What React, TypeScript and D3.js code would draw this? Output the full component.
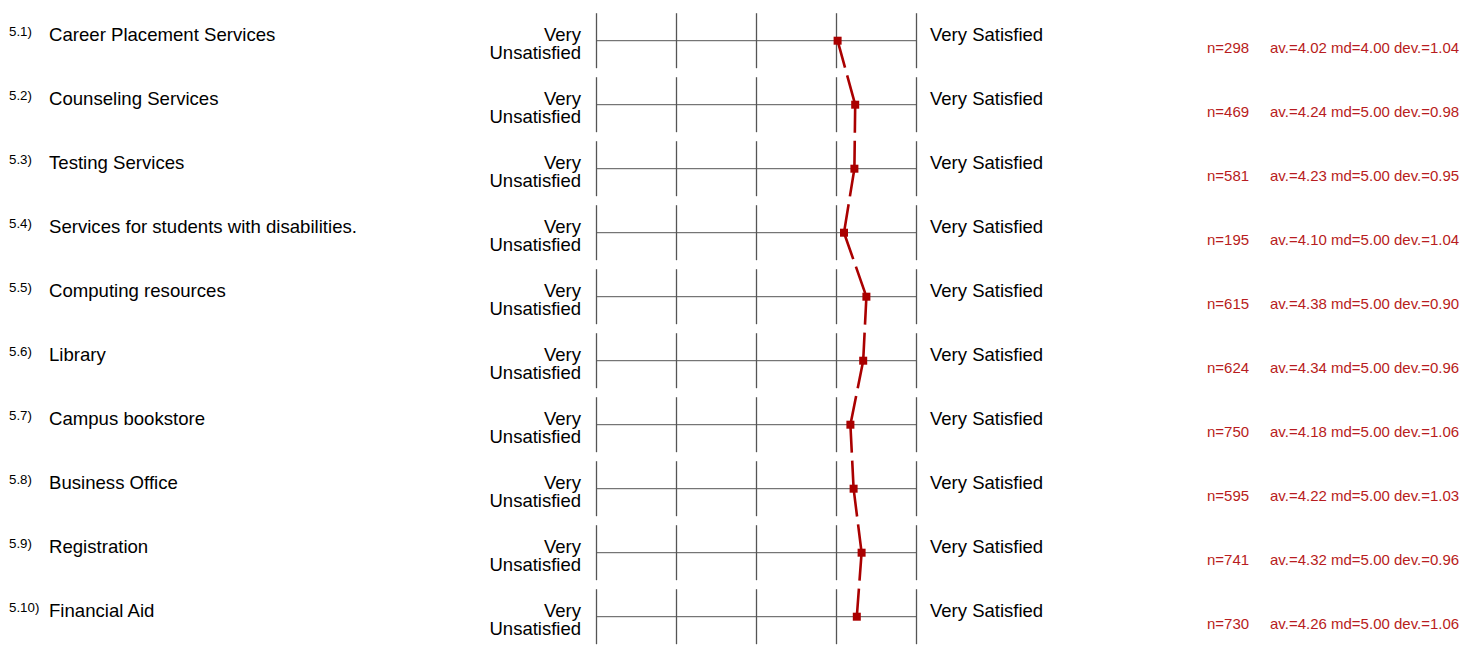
import React from "react";
import * as d3 from "d3";

const itemNumbers = ["5.1)", "5.2)", "5.3)", "5.4)", "5.5)", "5.6)", "5.7)", "5.8)", "5.9)", "5.10)"];
const itemLabels = [
  "Career Placement Services",
  "Counseling Services",
  "Testing Services",
  "Services for students with disabilities.",
  "Computing resources",
  "Library",
  "Campus bookstore",
  "Business Office",
  "Registration",
  "Financial Aid",
];
const nValues = [298, 469, 581, 195, 615, 624, 750, 595, 741, 730];
const averages = [4.02, 4.24, 4.23, 4.1, 4.38, 4.34, 4.18, 4.22, 4.32, 4.26];
const medians = [4.0, 5.0, 5.0, 5.0, 5.0, 5.0, 5.0, 5.0, 5.0, 5.0];
const deviations = [1.04, 0.98, 0.95, 1.04, 0.9, 0.96, 1.06, 1.03, 0.96, 1.06];
const scalePoints = [1, 2, 3, 4, 5];
const leftPoleLines = ["Very", "Unsatisfied"];
const rightPole = "Very Satisfied";

const W = 1463;
const H = 646;
const FONT = "'Liberation Sans', Arial, Helvetica, sans-serif";
const RED = "#aa0000";
const TEXT_RED = "#b81c20";
const GRID = "#555";

export default function App() {
  const x = d3.scaleLinear().domain([1, 5]).range([596, 916]);
  const y = d3.scaleLinear().domain([0, itemLabels.length - 1]).range([40.7, 40.7 + 64 * (itemLabels.length - 1)]);
  const pts = averages.map((a, i) => [x(a), y(i)] as [number, number]);
  const segLine = d3.line();

  return (
    <svg
      width={W}
      height={H}
      style={{ position: "absolute", left: 0, top: 0, fontFamily: FONT }}
    >
      {itemLabels.map((label, i) => {
        const cy = y(i);
        return (
          <g key={i}>
            <text x={9} y={cy - 5} fontSize={13.3} fill="#000">
              {itemNumbers[i]}
            </text>
            <text x={49} y={cy} fontSize={18.6} fill="#000">
              {label}
            </text>
            <text x={581} y={cy} fontSize={18.5} textAnchor="end" fill="#000">
              {leftPoleLines[0]}
            </text>
            <text x={581} y={cy + 18} fontSize={18.5} textAnchor="end" fill="#000">
              {leftPoleLines[1]}
            </text>
            <line x1={x(1)} x2={x(5)} y1={cy} y2={cy} stroke={GRID} strokeWidth={1} />
            {scalePoints.map((p) => (
              <line
                key={p}
                x1={Math.round(x(p)) + 0.5}
                x2={Math.round(x(p)) + 0.5}
                y1={cy - 27.5}
                y2={cy + 27.5}
                stroke={GRID}
                strokeWidth={1.3}
              />
            ))}
            <text x={930} y={cy} fontSize={18.5} fill="#000">
              {rightPole}
            </text>
            <text x={1207} y={cy + 12} fontSize={15} fill={TEXT_RED}>
              {`n=${nValues[i]}`}
            </text>
            <text x={1270} y={cy + 12} fontSize={15} fill={TEXT_RED}>
              {`av.=${averages[i].toFixed(2)} md=${medians[i].toFixed(2)} dev.=${deviations[i].toFixed(2)}`}
            </text>
          </g>
        );
      })}
      {pts.slice(1).map((p, i) => (
        <path
          key={"seg" + i}
          d={segLine([pts[i], p]) || ""}
          fill="none"
          stroke={RED}
          strokeWidth={2.6}
          strokeDasharray="28 8"
        />
      ))}
      {pts.map((p, i) => (
        <rect key={"m" + i} x={p[0] - 4} y={p[1] - 4} width={8} height={8} fill={RED} />
      ))}
    </svg>
  );
}
